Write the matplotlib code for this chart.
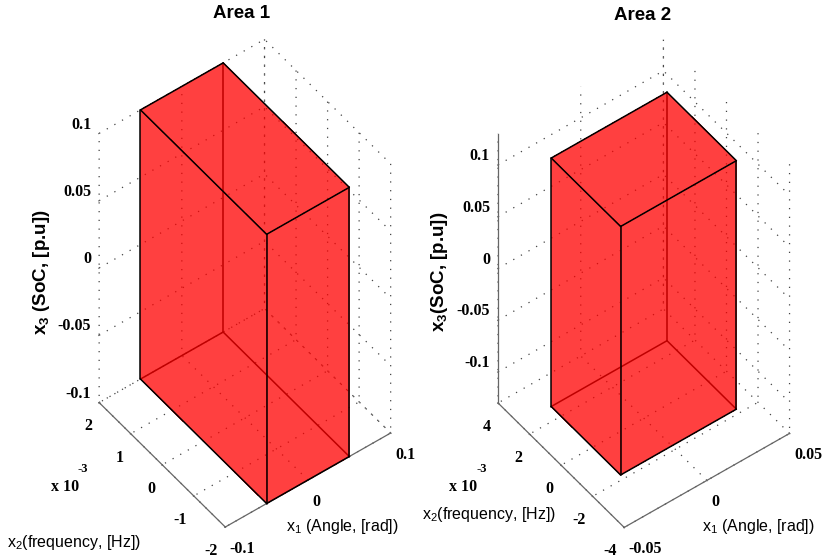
import itertools
import matplotlib
matplotlib.use("Agg")
import matplotlib.pyplot as plt
from mpl_toolkits.mplot3d.art3d import Poly3DCollection

# ---- data ----
x1_lim_a1 = [-0.1, 0.1]
x2_lim_a1 = [-2e-3, 2e-3]
x3_lim_a1 = [-0.1, 0.1]
x1_box_a1 = [-0.05, 0.05]
x2_box_a1 = [-2e-3, 2e-3]
x3_box_a1 = [-0.1, 0.1]
x1_ticks_a1 = [-0.1, 0, 0.1]
x2_ticks_a1 = [-2e-3, -1e-3, 0, 1e-3, 2e-3]
x3_ticks_a1 = [-0.1, -0.05, 0, 0.05, 0.1]
x1_labels_a1 = ["-0.1", "0", "0.1"]
x2_labels_a1 = ["-2", "-1", "0", "1", "2"]
x3_labels_a1 = ["-0.1", "-0.05", "0", "0.05", "0.1"]

x1_lim_a2 = [-0.05, 0.05]
x2_lim_a2 = [-4e-3, 4e-3]
x3_lim_a2 = [-0.13, 0.13]
x1_box_a2 = [-0.035, 0.035]
x2_box_a2 = [-2.2e-3, 2.2e-3]
x3_box_a2 = [-0.12, 0.12]
x1_ticks_a2 = [-0.05, 0, 0.05]
x2_ticks_a2 = [-4e-3, -2e-3, 0, 2e-3, 4e-3]
x3_ticks_a2 = [-0.1, -0.05, 0, 0.05, 0.1]
x1_labels_a2 = ["-0.05", "0", "0.05"]
x2_labels_a2 = ["-4", "-2", "0", "2", "4"]
x3_labels_a2 = ["-0.1", "-0.05", "0", "0.05", "0.1"]

W, H = 824, 558
SANS = ["Liberation Sans", "DejaVu Sans"]
SERIF = ["Liberation Serif", "DejaVu Serif"]

plt.rcParams.update({
    "font.family": SANS,
    "axes.unicode_minus": False,
    "mathtext.default": "regular",
    "grid.color": "#444444",
    "grid.linewidth": 0.9,
    "grid.linestyle": (0, (1, 6)),
})

fig = plt.figure(figsize=(W / 100, H / 100), dpi=100, facecolor="white")


def px_text(x, y, s, **kw):
    kw.setdefault("ha", "center")
    kw.setdefault("va", "center")
    return fig.text(x / W, 1 - y / H, s, **kw)


def place_labels(labels, ha, va):
    for t in labels:
        t.set_ha(ha)
        t.set_va(va)


def panel(center, xl, yl, zl, xb, yb, zb, xt, yt, zt, xs, ys, zs, z_line):
    L = 487
    frac = 0.95 / 1.85
    left = center[0] - frac * L
    bottom = (H - center[1]) - frac * L
    ax = fig.add_axes([left / W, bottom / H, L / W, L / H], projection="3d",
                      proj_type="ortho", computed_zorder=False)
    ax.set_facecolor("none")
    ax.view_init(elev=48.5, azim=-127.2)
    ax.set_box_aspect((207.5, 208.5, 406))
    ax.set_xlim(*xl, view_margin=0)
    ax.set_ylim(*yl, view_margin=0)
    ax.set_zlim(*zl, view_margin=0)

    for axis in (ax.xaxis, ax.yaxis, ax.zaxis):
        axis.set_pane_color((1, 1, 1, 0))
        axis.pane.set_edgecolor((1, 1, 1, 0))
        axis._axinfo["tick"]["inward_factor"] = 0.03
        axis._axinfo["tick"]["outward_factor"] = 0.0
        axis.line.set_color("#666666")
        axis.line.set_linewidth(0.9)
    if not z_line:
        ax.zaxis.line.set_color((1, 1, 1, 0))

    font = dict(family=SERIF, weight="bold", size=11.5)
    ax.set_xticks(xt, xs, **font)
    ax.set_yticks(yt, ys, **font)
    ax.set_zticks(zt, zs, **font)
    ax.tick_params(axis="x", pad=-1.5, color="#666666", width=0.7)
    ax.tick_params(axis="y", pad=0, color="#666666", width=0.7)
    ax.tick_params(axis="z", pad=-3, color="#666666", width=0.7)
    place_labels(ax.get_xticklabels(), "left", "top")
    place_labels(ax.get_yticklabels(), "right", "top")
    place_labels(ax.get_zticklabels(), "right", "bottom")

    def edge(a, b, z):
        ax.plot(*zip(a, b), color="black", lw=1.1, zorder=z,
                solid_capstyle="round")

    # hidden edges, under the translucent faces
    back = (xb[1], yb[1], zb[0])
    for other in [(xb[1], yb[1], zb[1]), (xb[0], yb[1], zb[0]),
                  (xb[1], yb[0], zb[0])]:
        edge(back, other, 2)

    # visible faces: top and the two faces towards the viewer
    faces = [
        [(xb[0], yb[0], zb[1]), (xb[1], yb[0], zb[1]),
         (xb[1], yb[1], zb[1]), (xb[0], yb[1], zb[1])],
        [(xb[0], yb[0], zb[0]), (xb[1], yb[0], zb[0]),
         (xb[1], yb[0], zb[1]), (xb[0], yb[0], zb[1])],
        [(xb[0], yb[0], zb[0]), (xb[0], yb[1], zb[0]),
         (xb[0], yb[1], zb[1]), (xb[0], yb[0], zb[1])],
    ]
    ax.add_collection3d(Poly3DCollection(
        faces, facecolors=[(1, 0, 0, 0.75)], edgecolors="none",
        antialiaseds=False, zorder=3))

    # visible edges
    for p, q in itertools.combinations(itertools.product(xb, yb, zb), 2):
        if sum(u != v for u, v in zip(p, q)) != 1:
            continue
        if back in (p, q):
            continue
        edge(p, q, 4)
    return ax


panel((244.9, 283.2), x1_lim_a1, x2_lim_a1, x3_lim_a1,
      x1_box_a1, x2_box_a1, x3_box_a1,
      x1_ticks_a1, x2_ticks_a1, x3_ticks_a1,
      x1_labels_a1, x2_labels_a1, x3_labels_a1, False)
panel((643.8, 283.6), x1_lim_a2, x2_lim_a2, x3_lim_a2,
      x1_box_a2, x2_box_a2, x3_box_a2,
      x1_ticks_a2, x2_ticks_a2, x3_ticks_a2,
      x1_labels_a2, x2_labels_a2, x3_labels_a2, True)

title = dict(fontsize=13.5, weight="bold", color="black")
px_text(241.7, 14, "Area 1", **title)
px_text(642.5, 15, "Area 2", **title)

ylab = dict(weight="bold", fontsize=13.5, rotation=90)
px_text(42, 272, "x$_{3}$ (SoC, [p.u])", **ylab)
px_text(440, 272, "x$_{3}$(SoC, [p.u])", **ylab)

xlab = dict(fontsize=11.5)
px_text(342, 527, "x$_{1}$ (Angle, [rad])", **xlab)
px_text(758, 526, "x$_{1}$ (Angle, [rad])", **xlab)
px_text(74.5, 542, "x$_{2}$(frequency, [Hz])", **xlab)
px_text(489, 515, "x$_{2}$(frequency, [Hz])", **xlab)

mult = dict(family=SERIF, weight="bold", fontsize=11.5)
exp = dict(family=SERIF, weight="bold", fontsize=9)
px_text(65.5, 487, "x 10", **mult)
px_text(83, 469, "-3", **exp)
px_text(463.5, 487, "x 10", **mult)
px_text(482, 469, "-3", **exp)

fig.savefig("out.png", dpi=100, facecolor="white")
